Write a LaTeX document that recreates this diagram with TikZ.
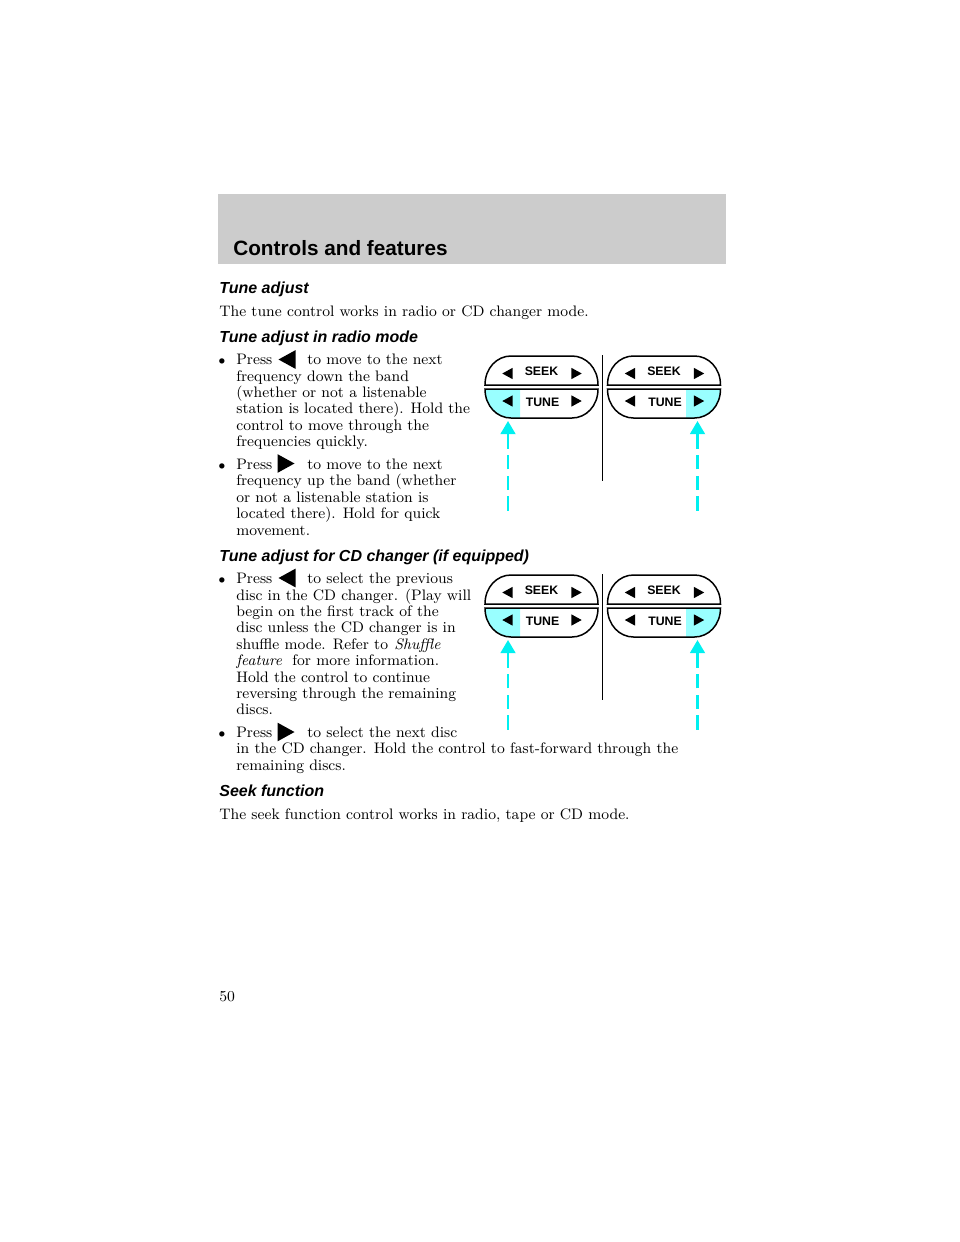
\documentclass[tikz,border=0pt]{standalone}
\usepackage{fontspec}
\usepackage{tikz}
\usetikzlibrary{arrows.meta, positioning}
\newfontfamily\headfont{Liberation Sans}
\definecolor{bandgray}{HTML}{CCCCCC}
\definecolor{pressfill}{HTML}{99FFFF}
\definecolor{pointer}{HTML}{00F0F0}
\tikzset{
  bodytext/.style={anchor=base west, inner sep=0pt, align=left, font=\fontsize{8.65}{9.33}\selectfont},
  heading/.style={anchor=base west, inner sep=0pt, font=\headfont\fontsize{9.1}{11}\selectfont\bfseries\itshape},
  keylabel/.style={inner sep=0pt, font=\headfont\fontsize{7}{8}\selectfont\bfseries},
  panel/.style={draw=black, line width=0.85pt},
  pointerline/.style={draw=pointer, line width=1.2pt, dash pattern=on 8.2pt off 3.5pt, -{Triangle[width=8.5pt,length=7.5pt]}},
}
\newcommand{\tileft}[3]{\fill (#1-#3,#2) -- (#1+#3,#2-#3*1.1) -- (#1+#3,#2+#3*1.1) -- cycle;}
\newcommand{\tiright}[3]{\fill (#1+#3,#2) -- (#1-#3,#2-#3*1.1) -- (#1-#3,#2+#3*1.1) -- cycle;}
\begin{document}
\begin{tikzpicture}[x=0.02cm, y=-0.02cm]
    \useasboundingbox (0,0) rectangle (960,1242);
    \fill[bandgray] (218,194) rectangle (726,264);
    \node[anchor=base west, inner sep=0pt, font=\headfont\fontsize{11.8}{13}\selectfont\bfseries] (title) at (233,255.5) {Controls and features};

    \node[heading] (tuneadjust) at (219,293) {Tune adjust};
    \node[bodytext] (intro) at (219,316) {The tune control works in radio or CD changer mode.};

    \node[heading] (radiohead) at (219,342) {Tune adjust in radio mode};
    \node[bodytext] (bulleta) at (218,364) {\scriptsize$\bullet$};
    \node[bodytext] (pressa) at (236,364) {Press};
    \node[bodytext] (linea) at (307,364) {to move to the next};
    \node[bodytext] (texta) at (236,381) {frequency down the band};
    \node[bodytext] (textab) at (236,397) {(whether or not a listenable};
    \node[bodytext] (textac) at (236,413) {station is located there). Hold the};
    \node[bodytext] (textad) at (236,430) {control to move through the};
    \node[bodytext] (textae) at (236,446) {frequencies quickly.};
    \tileft{287}{359.5}{8.5}

    \node[bodytext] (bulletb) at (218,469) {\scriptsize$\bullet$};
    \node[bodytext] (pressb) at (236,469) {Press};
    \node[bodytext] (lineb) at (307,469) {to move to the next};
    \node[bodytext] (textb) at (236,485) {frequency up the band (whether};
    \node[bodytext] (textbb) at (236,502) {or not a listenable station is};
    \node[bodytext] (textbc) at (236,518) {located there). Hold for quick};
    \node[bodytext] (textbd) at (236,535) {movement.};
    \tiright{286}{463.5}{8.5}

    \node[heading] (changerhead) at (219,561) {Tune adjust for CD changer (if equipped)};
    \node[bodytext] (bulletc) at (218,583) {\scriptsize$\bullet$};
    \node[bodytext] (pressc) at (236,583) {Press};
    \node[bodytext] (linec) at (307,583) {to select the previous};
    \node[bodytext] (textc) at (236,600) {disc in the CD changer. (Play will};
    \node[bodytext] (textcb) at (236,616) {begin on the first track of the};
    \node[bodytext] (textcc) at (236,632) {disc unless the CD changer is in};
    \node[bodytext] (textcd) at (236,649) {shuffle mode. Refer to};
    \node[bodytext] (shuffle) at (394,649) {\itshape Shuffle};
    \node[bodytext] (feature) at (236,665) {\itshape feature};
    \node[bodytext] (textce) at (292,665) {for more information.};
    \node[bodytext] (textcf) at (236,682) {Hold the control to continue};
    \node[bodytext] (textcg) at (236,698) {reversing through the remaining};
    \node[bodytext] (textch) at (236,714) {discs.};
    \tileft{287}{578}{8.5}

    \node[bodytext] (bulletd) at (218,737) {\scriptsize$\bullet$};
    \node[bodytext] (pressd) at (236,737) {Press};
    \node[bodytext] (lined) at (307,737) {to select the next disc};
    \node[bodytext] (textd) at (236,753) {in the CD changer. Hold the control to fast-forward through the};
    \node[bodytext] (textdb) at (236,770) {remaining discs.};
    \tiright{286}{732}{8.5}

    \node[heading] (seekhead) at (219,796) {Seek function};
    \node[bodytext] (seektext) at (219,819) {The seek function control works in radio, tape or CD mode.};
    \node[bodytext] (pagenum) at (219,1001) {50};

    % both panel pairs, second one 219 lower
    \foreach \dy/\grp in {0/a,219/b}{
      \begin{scope}[shift={(0,\dy)}]
        \fill[pressfill] (485,389) -- (520,389) -- (520,418) -- (511,418) .. controls (495,418) and (485,404) .. (485,389) -- cycle;
        \fill[pressfill] (720.5,389) -- (686,389) -- (686,418) -- (695,418) .. controls (711,418) and (720.5,404) .. (720.5,389) -- cycle;
        \foreach \dx/\tag in {0/l,122.5/r}{
          \begin{scope}[shift={(\dx,0)}]
            \draw[panel] (485,385) .. controls (485,368) and (497,356) .. (511,356) -- (572,356) .. controls (586,356) and (598,368) .. (598,385) -- cycle;
            \draw[panel] (485,389) .. controls (485,406) and (497,418) .. (511,418) -- (572,418) .. controls (586,418) and (598,406) .. (598,389) -- cycle;
            \node[keylabel] (seek\grp\tag) at (541.5,371) {SEEK};
            \node[keylabel] (tune\grp\tag) at (542.5,402) {TUNE};
            \tileft{507.5}{373.5}{5.2}
            \tiright{576.5}{373.5}{5.2}
            \tileft{507.5}{401}{5.2}
            \tiright{576.5}{401}{5.2}
          \end{scope}
        }
        \coordinate (divtop\grp) at (602.5,355);
        \coordinate (divend\grp) at (602.5,481);
        \draw[line width=0.85pt] (divtop\grp) -- (divend\grp);
        \coordinate (starta\grp) at (508,510.5);
        \coordinate (tipa\grp) at (508,421);
        \coordinate (startb\grp) at (697.5,510.5);
        \coordinate (tipb\grp) at (697.5,421);
        \draw[pointerline] (starta\grp) -- (tipa\grp);
        \draw[pointerline] (startb\grp) -- (tipb\grp);
      \end{scope}
    }
\end{tikzpicture}
\end{document}
